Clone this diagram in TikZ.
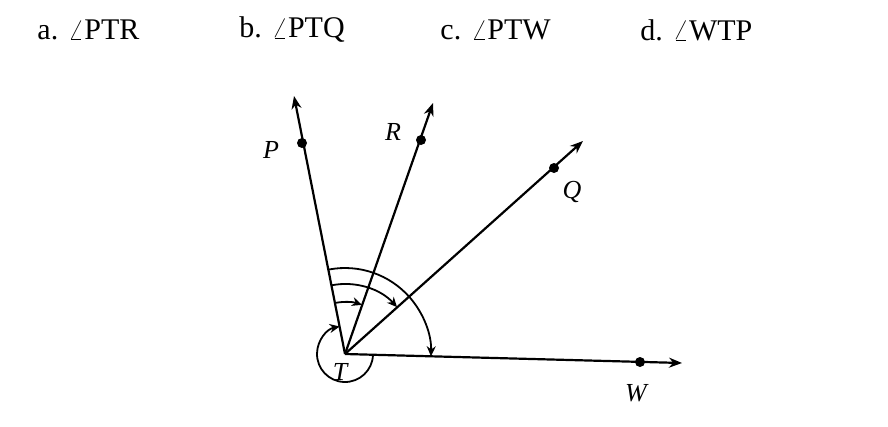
\documentclass[tikz,border=0pt]{standalone}
\usepackage{fontspec}
\setmainfont{Liberation Serif}
\usetikzlibrary{arrows.meta}
\begin{document}
\begin{tikzpicture}[x=1pt,y=-1pt,line width=2.2pt,
 ray/.style={-{Stealth[length=13pt,width=10pt]}},
 arcar/.style={line width=1.8pt,-{Stealth[length=10pt,width=9pt]}},
 dotn/.style={circle,fill,inner sep=0pt,minimum size=10pt},
 lab/.style={font=\fontsize{26}{26}\selectfont\itshape},
 top/.style={font=\fontsize{30}{30}\selectfont,anchor=west}]
\useasboundingbox (0,0) rectangle (888,426);
\node[top] (a) at (33,30) {a. $\angle$PTR};
\node[top] (b) at (235,30) {b. $\angle$PTQ};
\node[top] (c) at (436,30) {c. $\angle$PTW};
\node[top] (d) at (636,30) {d. $\angle$WTP};
\coordinate (T) at (345,354);
\coordinate (Pe) at (294,96);
\coordinate (Re) at (433,103);
\coordinate (Qe) at (583,141);
\coordinate (We) at (682,363);
\draw[ray] (T) -- (Pe);
\draw[ray] (T) -- (Re);
\draw[ray] (T) -- (Qe);
\draw[ray] (T) -- (We);
\node[dotn] (P) at (302,143) {};
\node[dotn] (R) at (421,140) {};
\node[dotn] (Q) at (554,168) {};
\node[dotn] (W) at (640,362) {};
\node[lab] (Pl) at (271,150) {P};
\node[lab] (Rl) at (393,132) {R};
\node[lab] (Ql) at (572,192) {Q};
\node[lab] (Wl) at (636,393) {W};
\node[lab] (Tl) at (340,372) {T};
% arcs (y flipped: use negative angles)
\draw[arcar] ([shift={(-101:52)}]T) arc[start angle=-101, end angle=-71, radius=52];
\draw[arcar] ([shift={(-101:70)}]T) arc[start angle=-101, end angle=-42, radius=70];
\draw[arcar] ([shift={(-101:86)}]T) arc[start angle=-101, end angle=1.5, radius=86];
\draw[arcar] ([shift={(1.5:28)}]T) arc[start angle=1.5, end angle=259, radius=28];
\end{tikzpicture}
\end{document}
